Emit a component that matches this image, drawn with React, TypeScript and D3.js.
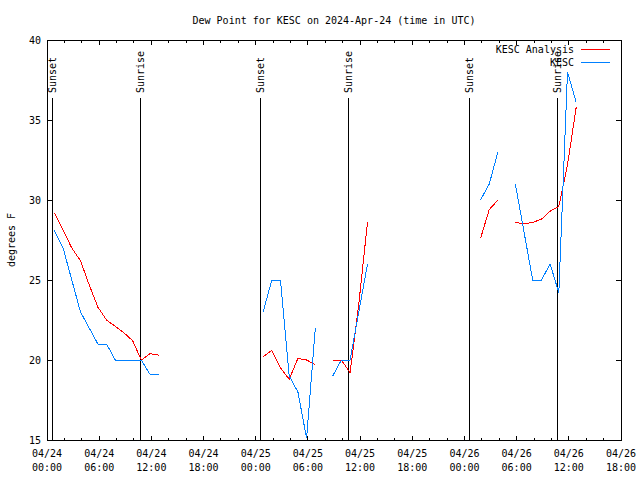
import React from "react";
import * as d3 from "d3";

const TITLE = "Dew Point for KESC on 2024-Apr-24 (time in UTC)";
const Y_LABEL = "degrees F";
const FIRST_SAMPLE = "2024-04-24T00:51:00Z";
const X_START = "2024-04-24T00:00:00Z";
const X_END = "2024-04-26T18:00:00Z";

// hourly values starting at FIRST_SAMPLE; null = missing
const analysis: (number | null)[] = [
  29.2, 28.1, 27.0, 26.2, 24.7, 23.3, 22.5, 22.1, 21.7, 21.2, 20.0, 20.4, 20.3,
  null, null, null, null, null, null, null, null, null, null, null,
  20.2, 20.6, 19.5, 18.8, 20.1, 20.0, 19.7,
  null,
  20.0, 20.0, 19.2, 23.5, 28.6,
  null, null, null, null, null, null, null, null, null, null, null, null,
  27.6, 29.4, 30.0,
  null,
  28.6, 28.5, 28.6, 28.8, 29.3, 29.6, 32.2, 35.8,
];

const observed: (number | null)[] = [
  28.1, 27.0, 25.0, 23.0, 22.0, 21.0, 21.0, 20.0, 20.0, 20.0, 20.0, 19.1, 19.1,
  null, null, null, null, null, null, null, null, null, null, null,
  23.0, 25.0, 25.0, 19.0, 18.0, 15.1, 22.0,
  null,
  19.0, 20.0, 20.0, 23.0, 26.0,
  null, null, null, null, null, null, null, null, null, null, null, null,
  30.0, 31.0, 33.0,
  null,
  31.0, 28.0, 25.0, 25.0, 26.0, 24.2, 38.0, 36.1,
];

const sunsets = ["2024-04-24T00:36:00Z", "2024-04-25T00:36:00Z", "2024-04-26T00:36:00Z"];
const sunrises = ["2024-04-24T10:42:00Z", "2024-04-25T10:42:00Z", "2024-04-26T10:42:00Z"];

const yTicks = [15, 20, 25, 30, 35, 40];
const seriesNames = ["KESC Analysis", "KESC"];
const seriesColors = ["#ff0000", "#0080ff"];

const W = 640;
const H = 480;
const M = { left: 47, right: 621, top: 40, bottom: 440 };
const FONT = "'DejaVu Sans Mono', monospace";

export default function App() {
  const x = d3
    .scaleUtc()
    .domain([new Date(X_START), new Date(X_END)])
    .range([M.left, M.right]);
  const y = d3.scaleLinear().domain([15, 40]).range([M.bottom, M.top]);

  const t0 = new Date(FIRST_SAMPLE);
  const toPts = (vals: (number | null)[]) =>
    vals.map((v, i) => ({ t: d3.utcHour.offset(t0, i), v }));

  const line = d3
    .line<{ t: Date; v: number | null }>()
    .defined((d) => d.v !== null)
    .x((d) => x(d.t))
    .y((d) => y(d.v as number));

  const majorTicks = x.ticks(d3.utcHour.every(6)!);
  const minorTicks = x.ticks(d3.utcHour.every(2)!);
  const fmtDate = d3.utcFormat("%m/%d");
  const fmtTime = d3.utcFormat("%H:%M");

  const lineTopY = 98;

  const events = [
    ...sunsets.map((s) => ({ t: new Date(s), label: "Sunset" })),
    ...sunrises.map((s) => ({ t: new Date(s), label: "Sunrise" })),
  ];

  return (
    <svg
      width={W}
      height={H}
      style={{ position: "fixed", left: 0, top: 0, background: "#fff" }}
      fontFamily={FONT}
      fontSize={10}
    >
      <rect x={0} y={0} width={W} height={H} fill="#fff" />
      <text x={(M.left + M.right) / 2} y={20} textAnchor="middle" dominantBaseline="central">
        {TITLE}
      </text>
      <text
        transform={`translate(11,${(M.top + M.bottom) / 2}) rotate(-90)`}
        textAnchor="middle"
        dominantBaseline="central"
      >
        {Y_LABEL}
      </text>

      {/* ticks */}
      <g stroke="#000" strokeWidth={1} shapeRendering="crispEdges">
        {yTicks.map((v) => (
          <g key={"y" + v}>
            <line x1={M.left} x2={M.left + 5} y1={y(v)} y2={y(v)} />
            <line x1={M.right - 5} x2={M.right} y1={y(v)} y2={y(v)} />
          </g>
        ))}
        {minorTicks.map((t, i) => (
          <g key={"mx" + i}>
            <line x1={x(t)} x2={x(t)} y1={M.bottom} y2={M.bottom - 2.5} />
            <line x1={x(t)} x2={x(t)} y1={M.top} y2={M.top + 2.5} />
          </g>
        ))}
        {majorTicks.map((t, i) => (
          <g key={"Mx" + i}>
            <line x1={x(t)} x2={x(t)} y1={M.bottom} y2={M.bottom - 4.5} />
            <line x1={x(t)} x2={x(t)} y1={M.top} y2={M.top + 4.5} />
          </g>
        ))}
      </g>

      {yTicks.map((v) => (
        <text key={"yl" + v} x={41} y={y(v)} textAnchor="end" dominantBaseline="central">
          {v}
        </text>
      ))}
      {majorTicks.map((t, i) => (
        <g key={"xl" + i}>
          <text x={x(t)} y={453} textAnchor="middle" dominantBaseline="central">
            {fmtDate(t)}
          </text>
          <text x={x(t)} y={467} textAnchor="middle" dominantBaseline="central">
            {fmtTime(t)}
          </text>
        </g>
      ))}

      {/* sunrise / sunset */}
      {events.map((e, i) => (
        <g key={"ev" + i}>
          <line
            x1={x(e.t)}
            x2={x(e.t)}
            y1={M.bottom}
            y2={lineTopY}
            stroke="#000"
            strokeWidth={1}
            shapeRendering="crispEdges"
          />
          <text
            transform={`translate(${x(e.t) + 3.5},${lineTopY - 5}) rotate(-90)`}
            textAnchor="start"
          >
            {e.label}
          </text>
        </g>
      ))}

      {/* data */}
      <path
        d={line(toPts(analysis)) || ""}
        fill="none"
        stroke={seriesColors[0]}
        strokeWidth={1}
        shapeRendering="crispEdges"
      />
      <path
        d={line(toPts(observed)) || ""}
        fill="none"
        stroke={seriesColors[1]}
        strokeWidth={1}
        shapeRendering="crispEdges"
      />

      {/* legend */}
      {seriesNames.map((n, i) => (
        <g key={"lg" + i}>
          <text x={574} y={49 + i * 13.5} textAnchor="end" dominantBaseline="central">
            {n}
          </text>
          <line
            x1={581}
            x2={610}
            y1={49 + i * 13.5}
            y2={49 + i * 13.5}
            stroke={seriesColors[i]}
            strokeWidth={1}
            shapeRendering="crispEdges"
          />
        </g>
      ))}

      {/* frame */}
      <rect
        x={M.left}
        y={M.top}
        width={M.right - M.left}
        height={M.bottom - M.top}
        fill="none"
        stroke="#000"
        strokeWidth={1}
        shapeRendering="crispEdges"
      />
    </svg>
  );
}
